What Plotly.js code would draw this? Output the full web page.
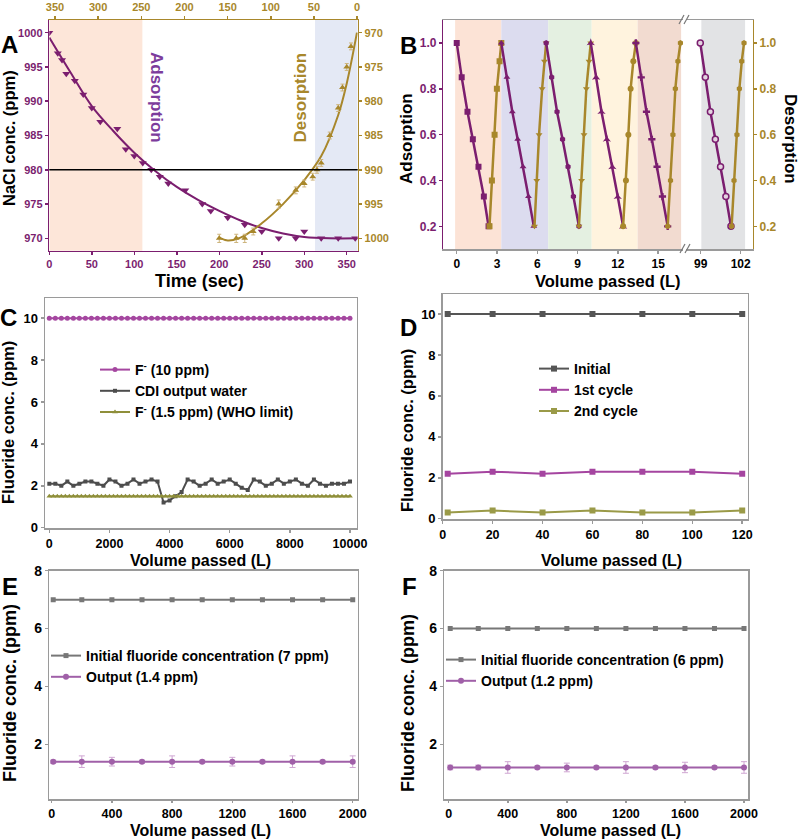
<!DOCTYPE html>
<html>
<head>
<meta charset="utf-8">
<script src="https://cdn.plot.ly/plotly-3.0.1.min.js"></script>
<style>
  html, body { margin: 0; padding: 0; background: #fff; }
  #fig { width: 800px; height: 839px; }
</style>
</head>
<body>
<div id="fig"></div>
<script>
// ---- panel A : NaCl adsorption / desorption vs time ----
var adsTime = [0, 10, 15, 20, 30, 40, 50, 60, 80, 90, 100, 110, 120, 130, 140, 160, 180, 190, 210, 230, 250, 270, 290, 300, 320, 340, 360];
var adsConc = [1000, 997, 996, 994, 993, 991, 989, 987, 986, 983, 982, 981, 980, 979, 978, 977, 975, 974, 973, 972, 971, 970, 970, 971, 970, 970, 970];
var adsFitTime = [0, 25, 50, 75, 100, 125, 150, 175, 200, 225, 250, 275, 300, 330, 362];
var adsFitConc = [999.3, 994.2, 989.3, 985.7, 982.5, 979.8, 977.5, 975.6, 974, 972.6, 971.5, 970.7, 970.2, 970, 970];
var desTime = [200, 220, 230, 240, 270, 290, 300, 310, 315, 320, 330, 340, 345, 350, 355];
var desConc = [1000, 1000, 1000, 999, 995, 993, 992, 991, 990, 989, 985, 981, 978, 975, 972];
var desErr = [0.6, 0.6, 0.6, 0.5, 0.6, 0.5, 0.5, 0.5, 0.5, 0.5, 0.5, 0.5, 0.5, 0.5, 0.5];
var desFitTime = [200, 210, 225, 250, 275, 300, 320, 340, 350, 362];
var desFitConc = [999.9, 1000.3, 999.9, 997.8, 995, 991.5, 988, 982, 977.4, 970];

// ---- panel B : cycles ----
var adsLevels = [1.0, 0.85, 0.70, 0.58, 0.46, 0.33, 0.20];
var desLevels = [0.20, 0.40, 0.60, 0.80, 0.92, 1.0];
var cycAdsVol = [
  [0, 0.37, 0.80, 1.20, 1.62, 2.02, 2.37],
  [3.32, 3.74, 4.14, 4.54, 4.94, 5.34, 5.74],
  [6.66, 7.07, 7.47, 7.88, 8.29, 8.69, 9.10],
  [9.98, 10.38, 10.78, 11.18, 11.59, 11.99, 12.39],
  [13.34, 13.74, 14.13, 14.53, 14.92, 15.32, 15.71]
];
var cycDesVol = [
  [2.44, 2.62, 2.82, 2.99, 3.19, 3.32],
  [5.79, 5.96, 6.13, 6.36, 6.53, 6.66],
  [9.10, 9.30, 9.48, 9.65, 9.85, 9.98],
  [12.39, 12.60, 12.78, 12.95, 13.15, 13.34],
  [15.71, 15.92, 16.10, 16.28, 16.47, 16.66]
];
var lastAdsVol = [98.97, 99.35, 99.73, 100.10, 100.49, 100.89, 101.27];
var lastDesVol = [101.32, 101.50, 101.72, 101.90, 102.08, 102.25];

// ---- panel C : 10000 L run ----
var cVolume = [0, 200, 400, 600, 800, 1000, 1200, 1400, 1600, 1800, 2000, 2200, 2400, 2600, 2800, 3000, 3200, 3400, 3600, 3800, 4000,
  4200, 4400, 4600, 4800, 5000, 5200, 5400, 5600, 5800, 6000, 6200, 6400, 6600, 6800, 7000, 7200, 7400, 7600, 7800, 8000,
  8200, 8400, 8600, 8800, 9000, 9200, 9400, 9600, 9800, 10000];
var cFeed = [10, 10, 10, 10, 10, 10, 10, 10, 10, 10, 10, 10, 10, 10, 10, 10, 10, 10, 10, 10, 10, 10, 10, 10, 10, 10,
  10, 10, 10, 10, 10, 10, 10, 10, 10, 10, 10, 10, 10, 10, 10, 10, 10, 10, 10, 10, 10, 10, 10, 10, 10];
var cOutput = [2.1, 2.1, 2.0, 2.2, 2.0, 2.1, 2.2, 2.2, 2.1, 2.0, 2.3, 2.2, 2.0, 2.1, 2.3, 2.1, 2.2, 2.3, 2.2, 1.2, 1.3,
  1.5, 1.7, 2.3, 2.2, 2.0, 2.1, 2.3, 2.1, 2.2, 2.3, 2.1, 1.9, 1.8, 2.3, 2.2, 2.0, 2.1, 2.3, 2.1, 2.2,
  2.3, 2.1, 2.0, 2.3, 2.1, 2.0, 2.1, 2.1, 2.1, 2.2];
var cWho = [1.5, 1.5, 1.5, 1.5, 1.5, 1.5, 1.5, 1.5, 1.5, 1.5, 1.5, 1.5, 1.5, 1.5, 1.5, 1.5, 1.5, 1.5, 1.5, 1.5,
  1.5, 1.5, 1.5, 1.5, 1.5, 1.5, 1.5, 1.5, 1.5, 1.5, 1.5, 1.5, 1.5, 1.5, 1.5, 1.5, 1.5, 1.5, 1.5, 1.5,
  1.5, 1.5, 1.5, 1.5, 1.5, 1.5, 1.5, 1.5, 1.5, 1.5, 1.5, 1.5, 1.5, 1.5, 1.5, 1.5, 1.5, 1.5, 1.5, 1.5,
  1.5, 1.5, 1.5, 1.5, 1.5, 1.5, 1.5, 1.5, 1.5, 1.5, 1.5, 1.5, 1.5, 1.5, 1.5, 1.5];
var cWhoStep = 133.33;
var cTicks = [0, 2000, 4000, 6000, 8000, 10000];
var cTickText = ['0', '2000', '4000', '6000', '8000', '10000'];

// ---- panel D : 120 L, two cycles ----
var dVolume = [2, 20, 40, 60, 80, 100, 120];
var dInitial = [10, 10, 10, 10, 10, 10, 10];
var dCycle1 = [2.2, 2.3, 2.2, 2.3, 2.3, 2.3, 2.2];
var dCycle2 = [0.3, 0.4, 0.3, 0.4, 0.3, 0.3, 0.4];

// ---- panels E / F : 2000 L runs ----
var efVolume = [10, 200, 400, 600, 800, 1000, 1200, 1400, 1600, 1800, 2000];
var eInitial = [7, 7, 7, 7, 7, 7, 7, 7, 7, 7, 7];
var eOutput = [1.4, 1.4, 1.4, 1.4, 1.4, 1.4, 1.4, 1.4, 1.4, 1.4, 1.4];
var eErr = [0.05, 0.2, 0.15, 0.05, 0.2, 0.05, 0.15, 0.05, 0.2, 0.05, 0.2];
var fInitial = [6, 6, 6, 6, 6, 6, 6, 6, 6, 6, 6];
var fOutput = [1.2, 1.2, 1.2, 1.2, 1.2, 1.2, 1.2, 1.2, 1.2, 1.2, 1.2];
var fErr = [0.08, 0.08, 0.2, 0.05, 0.15, 0.05, 0.2, 0.05, 0.18, 0.05, 0.2];

var FONT = 'Liberation Sans, Arial, sans-serif';
var PURPLE = '#7b1e6f';
var GOLD = '#a8872b';
var FRAME = '#9a9a9a';

// pixel -> paper helpers
function px(p) { return p / 800; }
function py(p) { return 1 - p / 839; }

var data = [];

// panel A traces
data.push({x: adsFitTime, y: adsFitConc, xaxis: 'x', yaxis: 'y', mode: 'lines',
  line: {color: PURPLE, width: 2, shape: 'spline'}, showlegend: false, hoverinfo: 'skip'});
data.push({x: adsTime, y: adsConc, xaxis: 'x', yaxis: 'y', mode: 'markers',
  marker: {symbol: 'triangle-down', size: 7, color: PURPLE}, showlegend: false});
data.push({x: desFitTime, y: desFitConc, xaxis: 'x', yaxis: 'y2', mode: 'lines',
  line: {color: GOLD, width: 2, shape: 'spline'}, showlegend: false, hoverinfo: 'skip'});
data.push({x: desTime, y: desConc, xaxis: 'x', yaxis: 'y2', mode: 'markers',
  error_y: {type: 'data', array: desErr, color: '#cdb47c', thickness: 1, width: 2},
  marker: {symbol: 'triangle-up', size: 6, color: GOLD}, showlegend: false});
// keeps the top time axis drawn
data.push({x: [0], y: [1000], xaxis: 'x2', yaxis: 'y2', mode: 'markers',
  marker: {opacity: 0}, showlegend: false, hoverinfo: 'skip'});

// panel B traces
var adsSymbols = ['square', 'triangle-up', 'hexagon', 'star-triangle-up', 'cross'];
var desSymbols = ['square', 'triangle-down', 'triangle-down', 'circle', 'hexagon'];
for (var i = 0; i < cycAdsVol.length; i++) {
  data.push({x: cycAdsVol[i], y: adsLevels, xaxis: 'x3', yaxis: 'y3', mode: 'lines+markers',
    line: {color: PURPLE, width: 2.5}, marker: {symbol: adsSymbols[i], size: 6, color: PURPLE}, showlegend: false});
  data.push({x: cycDesVol[i], y: desLevels, xaxis: 'x3', yaxis: 'y3', mode: 'lines+markers',
    line: {color: GOLD, width: 2.5}, marker: {symbol: desSymbols[i], size: 6, color: GOLD}, showlegend: false});
}
data.push({x: lastAdsVol, y: adsLevels, xaxis: 'x4', yaxis: 'y3', mode: 'lines+markers',
  line: {color: PURPLE, width: 2.5},
  marker: {symbol: 'circle', size: 6, color: '#e3d3e0', line: {color: PURPLE, width: 1.5}}, showlegend: false});
data.push({x: lastDesVol, y: desLevels, xaxis: 'x4', yaxis: 'y4', mode: 'lines+markers',
  line: {color: GOLD, width: 2.5}, marker: {symbol: 'hexagon', size: 6, color: GOLD}, showlegend: false});

// panel C traces
data.push({x: cVolume, y: cFeed, xaxis: 'x5', yaxis: 'y5', mode: 'lines+markers', name: 'F<sup>-</sup> (10 ppm)',
  line: {color: '#a547a0', width: 2}, marker: {symbol: 'circle', size: 5, color: '#a547a0'}, legend: 'legend'});
data.push({x: cVolume, y: cOutput, xaxis: 'x5', yaxis: 'y5', mode: 'lines+markers', name: 'CDI output water',
  line: {color: '#4d4d4d', width: 2}, marker: {symbol: 'square', size: 4, color: '#4d4d4d'}, legend: 'legend'});
data.push({x0: 0, dx: cWhoStep, y: cWho, xaxis: 'x5', yaxis: 'y5', mode: 'lines+markers', name: 'F<sup>-</sup> (1.5 ppm) (WHO limit)',
  line: {color: '#8f8f3a', width: 2}, marker: {symbol: 'triangle-up', size: 5, color: '#8f8f3a'}, legend: 'legend'});

// panel D traces
data.push({x: dVolume, y: dInitial, xaxis: 'x6', yaxis: 'y6', mode: 'lines+markers', name: 'Initial',
  line: {color: '#555555', width: 2}, marker: {symbol: 'square', size: 6, color: '#555555'}, legend: 'legend2'});
data.push({x: dVolume, y: dCycle1, xaxis: 'x6', yaxis: 'y6', mode: 'lines+markers', name: '1st cycle',
  line: {color: '#a545a0', width: 2}, marker: {symbol: 'square', size: 6, color: '#a545a0'}, legend: 'legend2'});
data.push({x: dVolume, y: dCycle2, xaxis: 'x6', yaxis: 'y6', mode: 'lines+markers', name: '2nd cycle',
  line: {color: '#9a9a48', width: 2}, marker: {symbol: 'square', size: 6, color: '#9a9a48'}, legend: 'legend2'});

// panel E traces
data.push({x: efVolume, y: eInitial, xaxis: 'x7', yaxis: 'y7', mode: 'lines+markers', name: 'Initial fluoride concentration (7 ppm)',
  line: {color: '#777777', width: 2}, marker: {symbol: 'square', size: 5, color: '#777777'}, legend: 'legend3'});
data.push({x: efVolume, y: eOutput, xaxis: 'x7', yaxis: 'y7', mode: 'lines+markers', name: 'Output (1.4 ppm)',
  error_y: {type: 'data', array: eErr, color: '#cfa6d2', thickness: 1, width: 3},
  line: {color: '#a060a8', width: 2}, marker: {symbol: 'circle', size: 6, color: '#a060a8'}, legend: 'legend3'});

// panel F traces
data.push({x: efVolume, y: fInitial, xaxis: 'x8', yaxis: 'y8', mode: 'lines+markers', name: 'Initial fluoride concentration (6 ppm)',
  line: {color: '#777777', width: 2}, marker: {symbol: 'square', size: 5, color: '#777777'}, legend: 'legend4'});
data.push({x: efVolume, y: fOutput, xaxis: 'x8', yaxis: 'y8', mode: 'lines+markers', name: 'Output (1.2 ppm)',
  error_y: {type: 'data', array: fErr, color: '#cfa6d2', thickness: 1, width: 3},
  line: {color: '#a060a8', width: 2}, marker: {symbol: 'circle', size: 6, color: '#a060a8'}, legend: 'legend4'});

// shared axis style
function ax(o) {
  var base = {showgrid: false, zeroline: false, showline: true, linewidth: 1.5, ticks: 'outside', ticklen: 3, tickwidth: 1.5,
    tickmode: 'array', fixedrange: true};
  for (var k in o) base[k] = o[k];
  return base;
}
function tf(size, color) { return {family: FONT, size: size, color: color || '#000', weight: 'bold'}; }

var layout = {
  width: 800, height: 839,
  margin: {l: 0, r: 0, t: 0, b: 0},
  paper_bgcolor: '#fff', plot_bgcolor: 'rgba(0,0,0,0)',
  font: {family: FONT, color: '#000'},
  // A
  xaxis: ax({domain: [px(49.3), px(357.7)], anchor: 'y', range: [0, 362.9], tickvals: [0, 50, 100, 150, 200, 250, 300, 350],
    linecolor: PURPLE, tickcolor: PURPLE, tickfont: tf(11, PURPLE)}),
  yaxis: ax({domain: [py(250.7), py(20)], anchor: 'x', range: [968.2, 1001.85], tickvals: [970, 975, 980, 985, 990, 995, 1000],
    linecolor: PURPLE, tickcolor: PURPLE, tickfont: tf(11, PURPLE)}),
  xaxis2: ax({overlaying: 'x', side: 'top', anchor: 'y', range: [356.6, -0.7], tickvals: [0, 50, 100, 150, 200, 250, 300, 350],
    linecolor: GOLD, tickcolor: GOLD, tickfont: tf(11, GOLD)}),
  yaxis2: ax({overlaying: 'y', side: 'right', anchor: 'x', range: [1001.8, 968.15], tickvals: [970, 975, 980, 985, 990, 995, 1000],
    linecolor: GOLD, tickcolor: GOLD, tickfont: tf(11, GOLD)}),
  // B
  xaxis3: ax({domain: [px(443.3), px(683)], anchor: 'y3', range: [-1.0, 16.85], tickvals: [0, 3, 6, 9, 12, 15],
    linecolor: FRAME, tickcolor: FRAME, mirror: true, tickfont: tf(12)}),
  xaxis4: ax({domain: [px(686), px(752.7)], anchor: 'y3', range: [97.9, 102.9], tickvals: [99, 102],
    linecolor: FRAME, tickcolor: FRAME, mirror: true, tickfont: tf(12)}),
  yaxis3: ax({domain: [py(249.3), py(20)], anchor: 'x3', range: [0.1, 1.1], tickvals: [0.2, 0.4, 0.6, 0.8, 1.0], tickformat: '.1f',
    linecolor: PURPLE, tickcolor: PURPLE, tickfont: tf(12, PURPLE)}),
  yaxis4: ax({overlaying: 'y3', side: 'right', anchor: 'x4', range: [0.1, 1.1], tickvals: [0.2, 0.4, 0.6, 0.8, 1.0], tickformat: '.1f',
    linecolor: GOLD, tickcolor: GOLD, tickfont: tf(12, GOLD)}),
  // C
  xaxis5: ax({domain: [px(45), px(356.7)], anchor: 'y5', range: [-143, 10223], tickvals: cTicks, ticktext: cTickText,
    linecolor: FRAME, tickcolor: FRAME, mirror: true, tickfont: tf(12.5)}),
  yaxis5: ax({domain: [py(528.3), py(298.3)], anchor: 'x5', range: [-0.03, 10.95], tickvals: [0, 2, 4, 6, 8, 10],
    linecolor: FRAME, tickcolor: FRAME, mirror: true, tickfont: tf(13)}),
  // D
  xaxis6: ax({domain: [px(442.7), px(747.7)], anchor: 'y6', range: [0, 122.2], tickvals: [0, 20, 40, 60, 80, 100, 120],
    linecolor: FRAME, tickcolor: FRAME, mirror: true, tickfont: tf(12.5)}),
  yaxis6: ax({domain: [py(519), py(294)], anchor: 'x6', range: [-0.015, 10.98], tickvals: [0, 2, 4, 6, 8, 10],
    linecolor: FRAME, tickcolor: FRAME, mirror: true, tickfont: tf(13)}),
  // E
  xaxis7: ax({domain: [px(49.3), px(357.7)], anchor: 'y7', range: [-16, 2033], tickvals: [0, 400, 800, 1200, 1600, 2000],
    linecolor: FRAME, tickcolor: FRAME, mirror: true, ticklen: 2, tickfont: tf(12.5)}),
  yaxis7: ax({domain: [py(799.3), py(570.7)], anchor: 'x7', range: [0.1, 8], tickvals: [2, 4, 6, 8],
    linecolor: FRAME, tickcolor: FRAME, mirror: true, tickfont: tf(14)}),
  // F
  xaxis8: ax({domain: [px(444.3), px(748.3)], anchor: 'y8', range: [-30, 2029], tickvals: [0, 400, 800, 1200, 1600, 2000],
    linecolor: FRAME, tickcolor: FRAME, mirror: true, ticklen: 2, tickfont: tf(12.5)}),
  yaxis8: ax({domain: [py(799.3), py(570.7)], anchor: 'x8', range: [0.1, 8], tickvals: [2, 4, 6, 8],
    linecolor: FRAME, tickcolor: FRAME, mirror: true, tickfont: tf(14)}),

  legend: {x: px(95), y: py(354), xanchor: 'left', yanchor: 'top', bgcolor: 'rgba(0,0,0,0)', font: tf(14)},
  legend2: {x: px(534), y: py(353), xanchor: 'left', yanchor: 'top', bgcolor: 'rgba(0,0,0,0)', font: tf(14)},
  legend3: {x: px(46), y: py(640), xanchor: 'left', yanchor: 'top', bgcolor: 'rgba(0,0,0,0)', font: tf(14)},
  legend4: {x: px(441), y: py(644), xanchor: 'left', yanchor: 'top', bgcolor: 'rgba(0,0,0,0)', font: tf(14)},

  shapes: [],
  annotations: []
};

// panel A shaded phases and 980 ppm reference line
layout.shapes.push({type: 'rect', xref: 'x', yref: 'y domain', x0: 0, x1: 109.5, y0: 0, y1: 1,
  fillcolor: '#fde6d9', line: {width: 0}, layer: 'below'});
layout.shapes.push({type: 'rect', xref: 'x', yref: 'y domain', x0: 312.7, x1: 362.9, y0: 0, y1: 1,
  fillcolor: '#e4e9f5', line: {width: 0}, layer: 'below'});
layout.shapes.push({type: 'line', xref: 'x domain', yref: 'y', x0: 0, x1: 1, y0: 980, y1: 980,
  line: {color: '#000', width: 1.5}});

// panel B cycle bands
var bands = [[-0.12, 3.32, '#fce3d6'], [3.32, 6.81, '#dcdcef'], [6.81, 10.05, '#e4f0e1'], [10.05, 13.47, '#fff3de'], [13.47, 16.71, '#f2dbd0']];
bands.forEach(function (b) {
  layout.shapes.push({type: 'rect', xref: 'x3', yref: 'y3 domain', x0: b[0], x1: b[1], y0: 0, y1: 1,
    fillcolor: b[2], line: {width: 0}, layer: 'below'});
});
layout.shapes.push({type: 'rect', xref: 'x4', yref: 'y3 domain', x0: 99.05, x1: 102.33, y0: 0, y1: 1,
  fillcolor: '#e2e3e5', line: {width: 0}, layer: 'below'});
// axis break marks
[[679, 24, 684, 15], [684, 24, 689, 15], [680, 253, 685, 244], [685, 253, 690, 244]].forEach(function (s) {
  layout.shapes.push({type: 'line', xref: 'paper', yref: 'paper', x0: px(s[0]), y0: py(s[1]), x1: px(s[2]), y1: py(s[3]),
    line: {color: '#777', width: 1.2}});
});

// text placed in pixel positions
function label(text, x, y, size, color, angle) {
  layout.annotations.push({text: text, xref: 'paper', yref: 'paper', x: px(x), y: py(y), showarrow: false,
    xanchor: 'center', yanchor: 'middle', textangle: angle || 0,
    font: {family: FONT, size: size, color: color || '#000', weight: 'bold'}});
}
// panel letters
label('A', 9, 45, 24); label('B', 408, 46, 24); label('C', 8, 317, 24);
label('D', 408, 327, 24); label('E', 10, 586, 24); label('F', 409, 586, 24);
// axis titles
label('Time (sec)', 199, 281, 18);
label('NaCl conc. (ppm)', 9, 138, 16.5, '#000', -90);
label('Volume passed (L)', 607, 281, 16.5);
label('Adsorption', 407, 139, 17, '#000', -90);
label('Desorption', 790, 139, 17, '#000', 90);
label('Volume passed (L)', 200, 560, 16);
label('Fluoride conc. (ppm)', 8, 423, 16.5, '#000', -90);
label('Volume passed (L)', 611, 560, 16);
label('Fluoride conc. (ppm)', 407, 431, 16.5, '#000', -90);
label('Volume passed (L)', 201, 830, 16);
label('Fluoride conc. (ppm)', 10, 693, 18, '#000', -90);
label('Volume passed (L)', 610, 830, 16);
label('Fluoride conc. (ppm)', 408, 703, 18, '#000', -90);
// phase labels in panel A
label('Adsorption', 157, 97, 17, '#7c3c9c', 90);
label('Desorption', 300, 97.5, 17, GOLD, -90);

Plotly.newPlot('fig', data, layout, {staticPlot: true});
</script>
</body>
</html>
